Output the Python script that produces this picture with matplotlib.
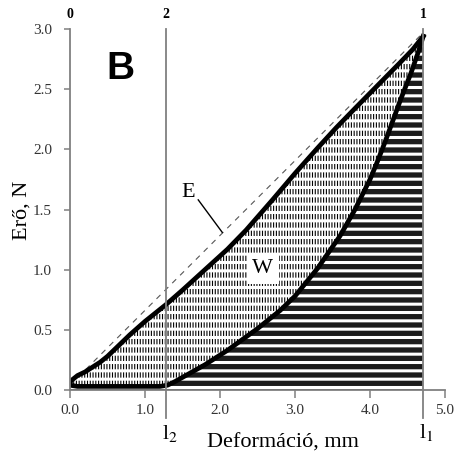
import numpy as np
import matplotlib
matplotlib.use('Agg')
import matplotlib.pyplot as plt
import matplotlib.transforms as mtransforms

plt.rcParams['font.family'] = ['Liberation Serif', 'DejaVu Serif']
plt.rcParams['mathtext.fontset'] = 'stix'

# terhelési görbe (felső)
x_load = [0.0, 0.1, 0.2, 0.3, 0.4, 0.5, 0.6, 0.8, 1.0, 1.28, 1.5, 1.8, 2.1, 2.35,
          2.7, 3.0, 3.3, 3.55, 3.8, 4.1, 4.4, 4.57, 4.71]
f_load = [0.07, 0.12, 0.15, 0.19, 0.23, 0.28, 0.34, 0.46, 0.57, 0.71, 0.83, 1.0, 1.17, 1.33,
          1.58, 1.80, 2.01, 2.18, 2.34, 2.53, 2.72, 2.83, 2.94]

# tehermentesítési görbe (alsó)
x_unload = [0.0, 0.1, 0.3, 0.5, 0.8, 1.0, 1.2, 1.3, 1.4, 1.6, 1.8, 2.1, 2.3, 2.5,
            2.8, 3.0, 3.3, 3.6, 3.8, 4.0, 4.1, 4.2, 4.3, 4.4, 4.55, 4.65, 4.71]
f_unload = [0.04, 0.03, 0.03, 0.03, 0.03, 0.03, 0.03, 0.04, 0.07, 0.14, 0.21, 0.33, 0.42, 0.51,
            0.66, 0.78, 1.01, 1.28, 1.50, 1.75, 1.90, 2.06, 2.23, 2.40, 2.64, 2.82, 2.94]

# rugalmas egyenes (E)
x_e = [0.0, 4.71]
f_e = [0.04, 2.97]

l1 = 4.71
l2 = 1.28
xticks = [0.0, 1.0, 2.0, 3.0, 4.0, 5.0]
yticks = [0.0, 0.5, 1.0, 1.5, 2.0, 2.5, 3.0]

fig = plt.figure(figsize=(4.56, 4.61), dpi=100)
ax = fig.add_axes([70 / 456, 71 / 461, 375 / 456, 361 / 461])
ax.set_xlim(0, 5)
ax.set_ylim(0, 3)

grey = '#808080'

# W terület: függőleges szaggatott sraffozás
px = np.concatenate([x_load, x_unload[::-1]])
py = np.concatenate([f_load, f_unload[::-1]])
p1 = ax.fill(px, py, facecolor='none', edgecolor='black', hatch='||||||', linewidth=0, zorder=1)[0]
# alsó terület: sötét sávok
qx = np.concatenate([x_unload, [l1, 0.0]])
qy = np.concatenate([f_unload, [0.0, 0.0]])
p2 = ax.fill(qx, qy, facecolor='#1c1c1c', edgecolor='none', linewidth=0, zorder=1)[0]
# fehér vízszintes csíkok
rx = np.concatenate([x_load, [l1, 0.0]])
ry = np.concatenate([f_load, [0.0, 0.0]])
p3 = ax.fill(rx, ry, facecolor='none', edgecolor='white', hatch='--', linewidth=0, zorder=1.5)[0]
if hasattr(p1, 'set_hatch_linewidth'):
    p1.set_hatch_linewidth(0.8)
    p3.set_hatch_linewidth(2.2)

ax.plot(x_e, f_e, color='#555555', lw=0.8, ls=(0, (5, 5)), zorder=2)
ax.plot(x_load, f_load, color='black', lw=3.4, zorder=3, solid_joinstyle='round')
ax.plot(x_unload, f_unload, color='black', lw=3.4, zorder=3, solid_joinstyle='round')

# függőleges vonalak
for xv in [l2, l1]:
    ax.axvline(xv, ymin=-0.078, ymax=1.0, color=grey, lw=1.3, clip_on=False, zorder=4)

trans = mtransforms.blended_transform_factory(ax.transData, ax.transAxes)
for xv, lab in [(0.0, '0'), (l2, '2'), (l1, '1')]:
    ax.text(xv, 1.039, lab, transform=trans, ha='center', va='center',
            fontsize=10, fontweight='bold')
ax.text(l2 - 0.05, -0.12, 'l$_2$', transform=trans, ha='left', va='center', fontsize=16)
ax.text(l1 - 0.05, -0.117, 'l$_1$', transform=trans, ha='left', va='center', fontsize=16)

ax.text(0.67, 2.67, 'B', ha='center', va='center', fontsize=28, fontweight='bold',
        family='Liberation Sans')
ax.text(1.57, 1.64, 'E', ha='center', va='center', fontsize=16)
ax.plot([1.71, 2.03], [1.58, 1.31], color='black', lw=1.0, zorder=4)
ax.text(2.57, 1.01, 'W', ha='center', va='center', fontsize=16, zorder=5,
        bbox=dict(facecolor='white', edgecolor='none', pad=4))

for s in ['top', 'right']:
    ax.spines[s].set_visible(False)
for s in ['left', 'bottom']:
    ax.spines[s].set_color(grey)
    ax.spines[s].set_linewidth(1.3)
ax.spines['left'].set_zorder(4)

ax.set_xticks(xticks)
ax.set_xticklabels(['%.1f' % v for v in xticks])
ax.set_yticks(yticks)
ax.set_yticklabels(['%.1f' % v for v in yticks])
ax.tick_params(axis='x', length=6, width=1.1, color=grey, pad=4, labelsize=11, labelcolor='#333333')
ax.tick_params(axis='y', length=4, width=1.1, color=grey, pad=9, labelsize=11, labelcolor='#333333')

fig.text(283 / 456, 1 - 443 / 461, 'Deformáció, mm', ha='center', va='center', fontsize=16)
fig.text(22 / 456, 1 - 210 / 461, 'Erő, N', ha='center', va='center', fontsize=16, rotation=90)

fig.savefig('out.png', dpi=100)
